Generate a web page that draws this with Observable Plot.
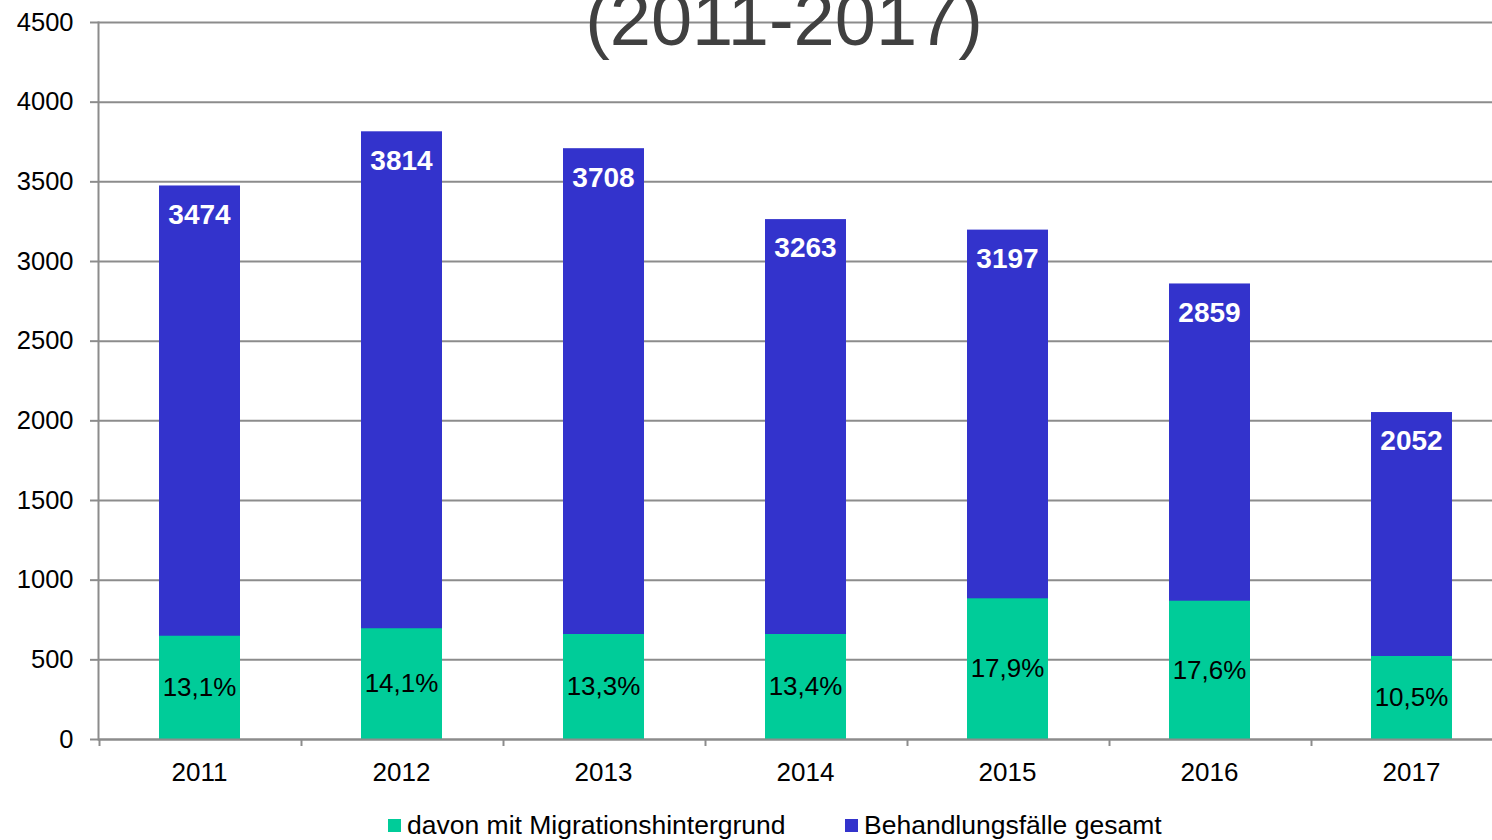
<!DOCTYPE html>
<html>
<head>
<meta charset="utf-8">
<script src="https://cdn.jsdelivr.net/npm/d3@7"></script>
<script src="https://cdn.jsdelivr.net/npm/@observablehq/plot@0.6"></script>
<style>
  html, body { margin: 0; padding: 0; background: #fff; overflow: hidden; width: 1492px; height: 840px; }
  #wrap { position: relative; width: 1492px; height: 840px; font-family: "Liberation Sans", Arial, sans-serif; }
  #chart svg { max-width: none !important; display: block; }
  #title { position: absolute; left: 784px; top: -17px; transform: translateX(-50%); font-size: 74px; line-height: 74px; color: #404040; white-space: nowrap; z-index: 2; }
  #legend { position: absolute; top: 800px; left: 0; width: 1492px; height: 40px; font-size: 26.5px; color: #000; }
  .item { position: absolute; top: 10px; display: flex; align-items: center; white-space: nowrap; line-height: 30px; }
  .sw { width: 13px; height: 13px; margin-right: 6px; }
</style>
</head>
<body>
<div id="wrap">
  <div id="title">(2011-2017)</div>
  <div id="chart"></div>
  <div id="legend">
    <div class="item" style="left:388px"><span class="sw" style="background:#00CC99"></span>davon mit Migrationshintergrund</div>
    <div class="item" style="left:845px"><span class="sw" style="background:#3333CC"></span>Behandlungsfälle gesamt</div>
  </div>
</div>
<script>
const years = ["2011", "2012", "2013", "2014", "2015", "2016", "2017"];
const totals = [3474, 3814, 3708, 3263, 3197, 2859, 2052];
const migration = [648, 695, 659, 659, 883, 868, 521];
const percents = ["13,1%", "14,1%", "13,3%", "13,4%", "17,9%", "17,6%", "10,5%"];
const yTicks = [0, 500, 1000, 1500, 2000, 2500, 3000, 3500, 4000, 4500];

const data = years.map((y, i) => ({year: y, total: totals[i], mig: migration[i], pct: percents[i]}));
const gray = "#8c8c8c";

const chart = Plot.plot({
  width: 1513,
  height: 800,
  marginTop: 22,
  marginBottom: 61,
  marginLeft: 98,
  marginRight: 0,
  style: {fontFamily: "Liberation Sans, Arial, sans-serif", background: "transparent", maxWidth: "none"},
  x: {type: "band", domain: years, padding: 0},
  y: {domain: [0, 4500]},
  marks: [
    Plot.gridY(yTicks, {stroke: gray, strokeOpacity: 1, strokeWidth: 2}),
    Plot.axisY(yTicks, {tickSize: 8, tickPadding: 17, stroke: gray, strokeWidth: 2, fontSize: 25.5, fill: "#000", label: null, tickFormat: d => String(d)}),
    Plot.barY(data, {x: "year", y: "total", fill: "#3333CC", insetLeft: 60, insetRight: 61}),
    Plot.barY(data, {x: "year", y: "mig", fill: "#00CC99", insetLeft: 60, insetRight: 61}),
    Plot.ruleY([0], {stroke: gray, strokeWidth: 2}),
    Plot.frame({anchor: "left", stroke: gray, strokeWidth: 2}),
    Plot.axisX({tickSize: 7, dx: -101, stroke: gray, strokeWidth: 2, tickFormat: () => "", label: null}),
    Plot.axisX({tickSize: 0, tickPadding: 23, fontSize: 26, fill: "#000", label: null, dx: -1}),
    Plot.text(data, {x: "year", y: "total", text: d => String(d.total), fill: "white", fontWeight: "bold", fontSize: 28, lineAnchor: "top", dy: 18, dx: -1}),
    Plot.text(data, {x: "year", y: d => d.mig / 2, text: "pct", fill: "#000", fontSize: 26, lineAnchor: "middle", dx: -1})
  ]
});
document.getElementById("chart").appendChild(chart);
</script>
</body>
</html>
